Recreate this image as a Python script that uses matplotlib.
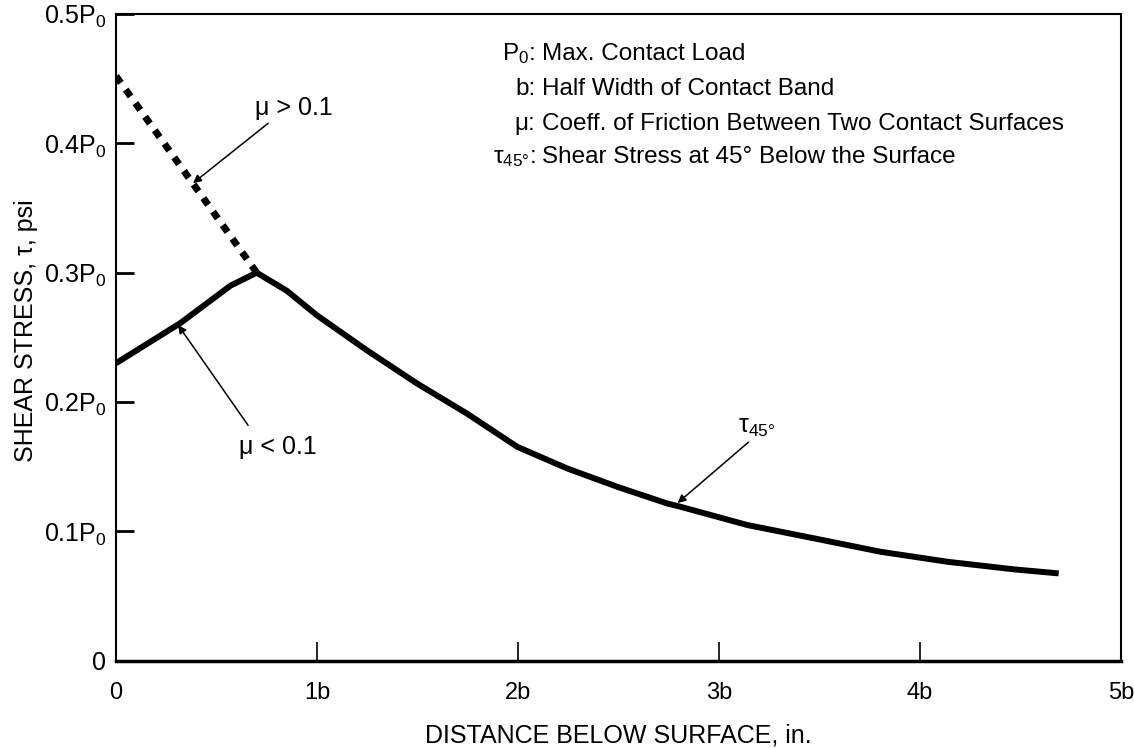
import matplotlib
matplotlib.use("Agg")
import matplotlib.pyplot as plt

plt.rcParams['font.family'] = ['Liberation Sans', 'DejaVu Sans']
plt.rcParams['mathtext.fontset'] = 'custom'
plt.rcParams['mathtext.rm'] = 'Liberation Sans'
plt.rcParams['mathtext.it'] = 'Liberation Sans'
plt.rcParams['mathtext.default'] = 'regular'

# 曲線データ (x は b 単位, y は P0 単位)
dist_solid = [0, 0.32, 0.57, 0.70, 0.85, 1.0, 1.248, 1.497, 1.747, 1.996,
              2.244, 2.493, 2.742, 2.809, 3.141, 3.473, 3.805, 4.137, 4.47,
              4.69]
tau_solid = [0.230, 0.261, 0.290, 0.300, 0.286, 0.267, 0.240, 0.2144, 0.191,
             0.1654, 0.1487, 0.1345, 0.1216, 0.119, 0.1049, 0.0946, 0.0842,
             0.0765, 0.0706, 0.0675]
dist_dash = [0, 0.70]
tau_dash = [0.452, 0.300]

xticks = [0, 1, 2, 3, 4, 5]
xticklabels = ["0", "1b", "2b", "3b", "4b", "5b"]
yticks = [0, 0.1, 0.2, 0.3, 0.4, 0.5]
yticklabels = ["0", "0.1P$_0$", "0.2P$_0$", "0.3P$_0$", "0.4P$_0$", "0.5P$_0$"]

keys = ["P$_0$:", "b:", "μ:", "τ$_{45°}$:"]
descs = ["Max. Contact Load", "Half Width of Contact Band",
         "Coeff. of Friction Between Two Contact Surfaces",
         "Shear Stress at 45° Below the Surface"]

fig = plt.figure(figsize=(11.34, 7.48), dpi=100)
ax = fig.add_axes([0.1023, 0.1167, 0.8862, 0.8646])

ax.plot(dist_solid, tau_solid, color='black', lw=4.3, solid_capstyle='butt',
        solid_joinstyle='round')
ax.plot(dist_dash, tau_dash, color='black', lw=5, dash_capstyle='butt',
        linestyle=(0, (1.2, 1.2)))

ax.set_xlim(0, 5)
ax.set_ylim(0, 0.5)
ax.set_xticks(xticks)
ax.set_xticklabels(xticklabels)
ax.set_yticks(yticks)
ax.set_yticklabels(yticklabels)
ax.tick_params(axis='y', direction='in', length=13, width=2, pad=7,
               labelsize=18)
ax.tick_params(axis='x', direction='in', length=14, width=1.2, pad=15,
               labelsize=17)
for side in ['left', 'right', 'top']:
    ax.spines[side].set_linewidth(1.5)
ax.spines['bottom'].set_linewidth(2.5)

ax.set_xlabel("DISTANCE BELOW SURFACE, in.", fontsize=18)
ax.set_ylabel("SHEAR STRESS, τ, psi", fontsize=18)
ax.xaxis.set_label_coords(0.5, -0.115)
ax.xaxis.label.set_va('center')
ax.yaxis.set_label_coords(-0.09, 0.51)
ax.yaxis.label.set_va('center')

# 凡例テキスト
row_y = [0.4642, 0.4372, 0.4101, 0.3846]
for k, d, yy in zip(keys, descs, row_y):
    ax.text(2.087, yy, k, ha='right', va='baseline', fontsize=17.5)
    ax.text(2.121, yy, d, ha='left', va='baseline', fontsize=17.5)

arrow = dict(arrowstyle='-|>', lw=1.1, color='black', mutation_scale=12,
             shrinkA=0, shrinkB=0)
ax.annotate("", xy=(0.383, 0.3692), xytext=(0.757, 0.4155), arrowprops=arrow)
ax.text(0.886, 0.4277, "μ > 0.1", ha='center', va='center', fontsize=18)
ax.annotate("", xy=(0.309, 0.2595), xytext=(0.657, 0.182), arrowprops=arrow)
ax.text(0.807, 0.165, "μ < 0.1", ha='center', va='center', fontsize=18)
ax.annotate("", xy=(2.794, 0.1219), xytext=(3.147, 0.169), arrowprops=arrow)
ax.text(3.19, 0.1806, "τ$_{45°}$", ha='center', va='center', fontsize=18)

fig.savefig("out.png", dpi=100)
